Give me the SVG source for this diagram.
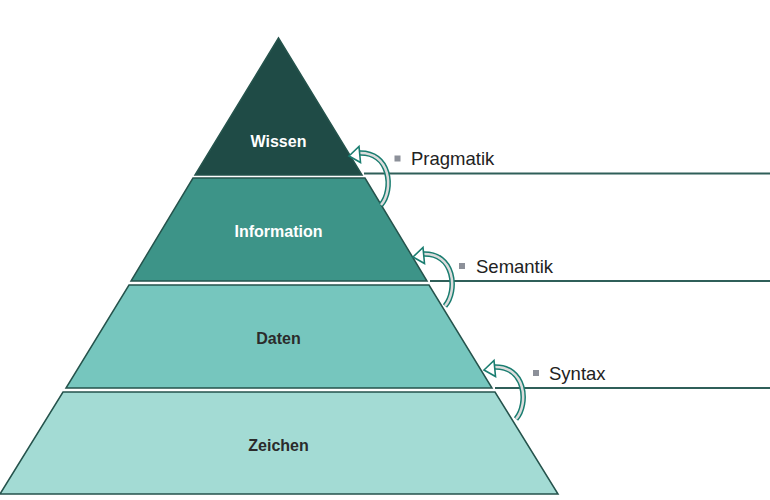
<svg xmlns="http://www.w3.org/2000/svg" width="770" height="500" viewBox="0 0 770 500">
<defs>
<style>
.lvl{stroke:#25534c;stroke-width:1.5;stroke-linejoin:miter}
.lt{font-family:"Liberation Sans",Arial,sans-serif;font-weight:bold;font-size:16px;text-anchor:middle}
.rl{font-family:"Liberation Sans",Arial,sans-serif;font-size:18.5px;fill:#222}
.hl{stroke:#2f5f59;stroke-width:2;fill:none}
.bul{fill:#8c9099}
.band-o{fill:none;stroke:#1a7d70;stroke-width:5.5}
.band-i{fill:none;stroke:#dcdcdc;stroke-width:2.5}
.head{fill:#ffffff;stroke:#1a7d70;stroke-width:1.6;stroke-linejoin:miter}
</style>
<g id="curveArrow">
<path class="band-o" d="M381,205 C394,190 391,151 358,153"/>
<path class="band-i" d="M381,205 C394,190 391,151 358,153"/>
<polygon class="head" points="349,156 359,146.5 360.5,162.5"/>
</g>
</defs>
<g id="wissen">
<polygon class="lvl" fill="#1f4b46" stroke="#1f4b46" points="278.5,38 195,175 362,175"/>
<text class="lt" x="278.5" y="147" fill="#ffffff">Wissen</text>
</g>
<g id="information">
<polygon class="lvl" fill="#3d9488" points="193,178 365,178 427,281 131,281"/>
<text class="lt" x="278.5" y="237" fill="#ffffff">Information</text>
</g>
<g id="daten">
<polygon class="lvl" fill="#76c6be" points="129,285 429,285 492,388 66,388"/>
<text class="lt" x="278.5" y="344" fill="#2b2b2b">Daten</text>
</g>
<g id="zeichen">
<polygon class="lvl" fill="#a3dbd4" points="63,392 495,392 558,494 0,494"/>
<text class="lt" x="278.5" y="451" fill="#2b2b2b">Zeichen</text>
</g>
<g id="connectors">
<line class="hl" x1="364" y1="173.5" x2="770" y2="173.5"/>
<line class="hl" x1="430" y1="281" x2="770" y2="281"/>
<line class="hl" x1="495" y1="388" x2="770" y2="388"/>
<use href="#curveArrow"/>
<use href="#curveArrow" transform="translate(64,101)"/>
<use href="#curveArrow" transform="translate(135,214)"/>
</g>
<g id="pragmatik">
<rect class="bul" x="394.5" y="155.5" width="6" height="6"/>
<text class="rl" x="411" y="165">Pragmatik</text>
</g>
<g id="semantik">
<rect class="bul" x="459" y="263" width="6" height="6"/>
<text class="rl" x="476" y="273">Semantik</text>
</g>
<g id="syntax">
<rect class="bul" x="533" y="370" width="6" height="6"/>
<text class="rl" x="549" y="380">Syntax</text>
</g>
</svg>
